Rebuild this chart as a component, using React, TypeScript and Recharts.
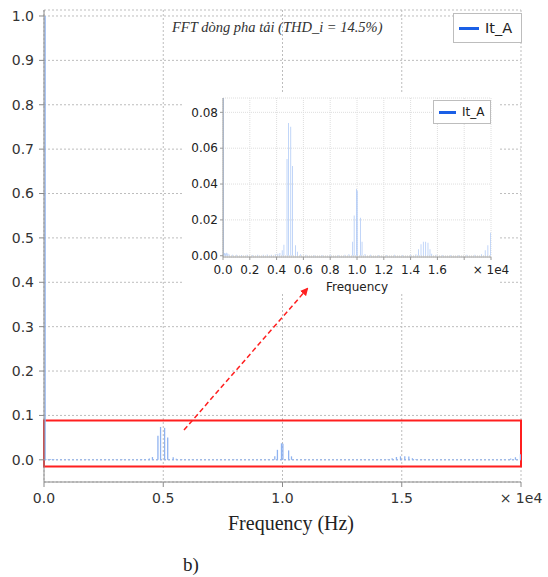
import React from 'react';
import { BarChart, Bar, XAxis, YAxis, CartesianGrid, ReferenceArea, ReferenceLine, Legend } from 'recharts';

// FFT spectrum of phase current It_A (frequency in Hz, amplitude p.u.)
const freqHz = [
    50, 120, 200, 280, 360, 450, 700, 1000, 1400, 1800, 2200, 2600, 3000, 3300, 3600, 3900,
    4100, 4250, 4420, 4550, 4780, 4890, 5060, 5190, 5420, 5550, 5800, 6200, 6800, 7400, 8000,
    8600, 9100, 9400, 9680, 9790, 9960, 10020, 10260, 10380, 10600, 11000, 11600, 12200, 12800,
    13400, 14000, 14400, 14600, 14780, 14950, 15130, 15300, 15450, 15580, 15900, 16400, 17000,
    17600, 18200, 18800, 19300, 19570, 19770, 19980,
];
const ampA = [
    1.0, 0.0015, 0.0012, 0.0017, 0.0013, 0.0008, 0.0006, 0.0005, 0.0004, 0.0005, 0.0004, 0.0006, 0.0005, 0.0007, 0.0006, 0.0009,
    0.0011, 0.0015, 0.003, 0.0062, 0.054, 0.074, 0.072, 0.05, 0.0058, 0.0022, 0.0009, 0.0005, 0.0004, 0.0004, 0.0005,
    0.0004, 0.0005, 0.0008, 0.0078, 0.0225, 0.0372, 0.0362, 0.0212, 0.0078, 0.001, 0.0005, 0.0004, 0.0004, 0.0005,
    0.0004, 0.0005, 0.0008, 0.0036, 0.0064, 0.0078, 0.0078, 0.0072, 0.0036, 0.0011, 0.0005, 0.0004, 0.0004,
    0.0004, 0.0005, 0.0005, 0.0009, 0.003, 0.0058, 0.0128,
];

const mainXTicks = [0, 5000, 10000, 15000, 20000];
const mainYTicks = [0, 0.1, 0.2, 0.3, 0.4, 0.5, 0.6, 0.7, 0.8, 0.9, 1.0];
const insetXTicks = [0, 2000, 4000, 6000, 8000, 10000, 12000, 14000, 16000, 18000, 20000];
const insetYTicks = [0, 0.02, 0.04, 0.06, 0.08];

const seriesName = 'It_A';
const title = 'FFT dòng pha tải (THD_i = 14.5%)';

const data = freqHz.map((f, i) => ({ f, a: ampA[i] }));

const sans = "'DejaVu Sans', Verdana, sans-serif";
const serif = "'Liberation Serif', 'Times New Roman', serif";

function xFmtMain(v: number) {
    if (v === 20000) return '× 1e4';
    return (v / 10000).toFixed(1);
}

function xFmtInset(v: number) {
    if (v === 20000) return '× 1e4';
    if (v === 18000) return '';
    return (v / 10000).toFixed(1);
}

function LegendBox({ w, h, fs, lineW }: { w: number; h: number; fs: number; lineW: number }) {
    return (
        <div
            style={{
                width: w,
                height: h,
                boxSizing: 'border-box',
                border: '1px solid #bdbdbd',
                background: '#fff',
                display: 'flex',
                alignItems: 'center',
                paddingLeft: 5,
                fontFamily: sans,
                fontSize: fs,
                color: '#222',
            }}
        >
            <span style={{ display: 'inline-block', width: lineW, height: 3, background: '#1a5fe6', marginRight: 6 }} />
            {seriesName}
        </div>
    );
}

export default function App() {
    return (
        <div style={{ position: 'absolute', left: 0, top: 0, width: 548, height: 577, background: '#fff' }}>
            <style>{'.recharts-surface { overflow: visible; }'}</style>
            <BarChart width={548} height={577} data={data} margin={{ top: 10, right: 27, left: 0, bottom: 0 }}>
                <CartesianGrid stroke="#bdbdbd" strokeDasharray="2 2" />
                <XAxis
                    dataKey="f"
                    type="number"
                    domain={[0, 20000]}
                    ticks={mainXTicks}
                    tickFormatter={xFmtMain}
                    interval={0}
                    tickSize={5}
                    tickMargin={6}
                    height={95}
                    stroke="#8a8a8a"
                    tick={{ fill: '#333', fontSize: 14, fontFamily: sans }}
                    allowDataOverflow
                />
                <XAxis xAxisId="top" orientation="top" type="number" domain={[0, 20000]} tick={false} tickLine={false} height={0} stroke="#b5b5b5" />
                <YAxis
                    type="number"
                    domain={[-0.05, 1.0135]}
                    ticks={mainYTicks}
                    tickFormatter={(v: number) => v.toFixed(1)}
                    interval={0}
                    tickSize={5}
                    tickMargin={5}
                    width={44}
                    stroke="#8a8a8a"
                    tick={{ fill: '#333', fontSize: 14, fontFamily: sans }}
                    allowDataOverflow
                />
                <YAxis yAxisId="right" orientation="right" domain={[0, 1]} tick={false} tickLine={false} width={0} stroke="#b5b5b5" />
                <ReferenceLine y={0} stroke="#8fb3f0" strokeDasharray="2 2" />
                <Bar dataKey="a" barSize={2} fill="#8fb3f0" isAnimationActive={false} />
                <ReferenceArea x1={0} x2={20000} y1={-0.015} y2={0.0885} fill="none" fillOpacity={0} stroke="#ff1f1f" strokeWidth={2} ifOverflow="visible" />
                <Legend
                    layout="vertical"
                    align="center"
                    verticalAlign="middle"
                    wrapperStyle={{ left: 453, top: 13, width: 69, height: 30 }}
                    content={() => <LegendBox w={69} h={30} fs={14.5} lineW={20} />}
                />
            </BarChart>

            <div style={{ position: 'absolute', left: 172, top: 19, fontFamily: serif, fontStyle: 'italic', fontSize: 14.5, color: '#333', whiteSpace: 'nowrap' }}>
                {title}
            </div>

            <div style={{ position: 'absolute', left: 0, width: 582, top: 512, textAlign: 'center', fontFamily: serif, fontSize: 20, color: '#222' }}>
                Frequency (Hz)
            </div>
            <div style={{ position: 'absolute', left: 183, top: 554, fontFamily: serif, fontSize: 19, color: '#222' }}>b)</div>

            {/* zoomed inset */}
            <div style={{ position: 'absolute', left: 184, top: 93, width: 314, height: 201, background: '#fff' }}>
                <BarChart width={314} height={201} data={data} margin={{ top: 5, right: 7, left: 0, bottom: 0 }}>
                    <CartesianGrid stroke="#dedede" strokeDasharray="1 1" />
                    <XAxis
                        dataKey="f"
                        type="number"
                        domain={[0, 20000]}
                        ticks={insetXTicks}
                        tickFormatter={xFmtInset}
                        interval={0}
                        tickSize={3}
                        tickMargin={5}
                        height={37}
                        stroke="#9a9a9a"
                        tick={{ fill: '#222', fontSize: 12, fontFamily: sans }}
                        allowDataOverflow
                    />
                    <XAxis xAxisId="top" orientation="top" type="number" domain={[0, 20000]} tick={false} tickLine={false} height={0} stroke="#cfcfcf" />
                    <YAxis
                        type="number"
                        domain={[-0.0007, 0.088]}
                        ticks={insetYTicks}
                        tickFormatter={(v: number) => v.toFixed(2)}
                        interval={0}
                        tickSize={3}
                        width={39}
                        stroke="#9a9a9a"
                        tick={{ fill: '#222', fontSize: 12, fontFamily: sans }}
                        allowDataOverflow
                    />
                    <YAxis yAxisId="right" orientation="right" domain={[0, 1]} tick={false} tickLine={false} width={0} stroke="#cfcfcf" />
                    <Bar dataKey="a" barSize={1} fill="#aac6f6" isAnimationActive={false} />
                    <Legend
                        layout="vertical"
                        align="center"
                        verticalAlign="middle"
                        wrapperStyle={{ left: 249, top: 7, width: 58, height: 24 }}
                        content={() => <LegendBox w={58} h={24} fs={12} lineW={17} />}
                    />
                </BarChart>
                <div style={{ position: 'absolute', left: 0, width: 346, top: 187, textAlign: 'center', fontFamily: sans, fontSize: 12, color: '#222' }}>
                    Frequency
                </div>
            </div>

            <svg width={548} height={577} style={{ position: 'absolute', left: 0, top: 0, pointerEvents: 'none' }}>
                <defs>
                    <marker id="arrowHead" markerWidth="8" markerHeight="8" refX="6" refY="4" orient="auto" markerUnits="userSpaceOnUse">
                        <path d="M0,0 L8,4 L0,8 Z" fill="#ff1f1f" />
                    </marker>
                </defs>
                <line x1={184} y1={430} x2={307} y2={289} stroke="#ff1f1f" strokeWidth={1.5} strokeDasharray="5 3" markerEnd="url(#arrowHead)" />
            </svg>
        </div>
    );
}
